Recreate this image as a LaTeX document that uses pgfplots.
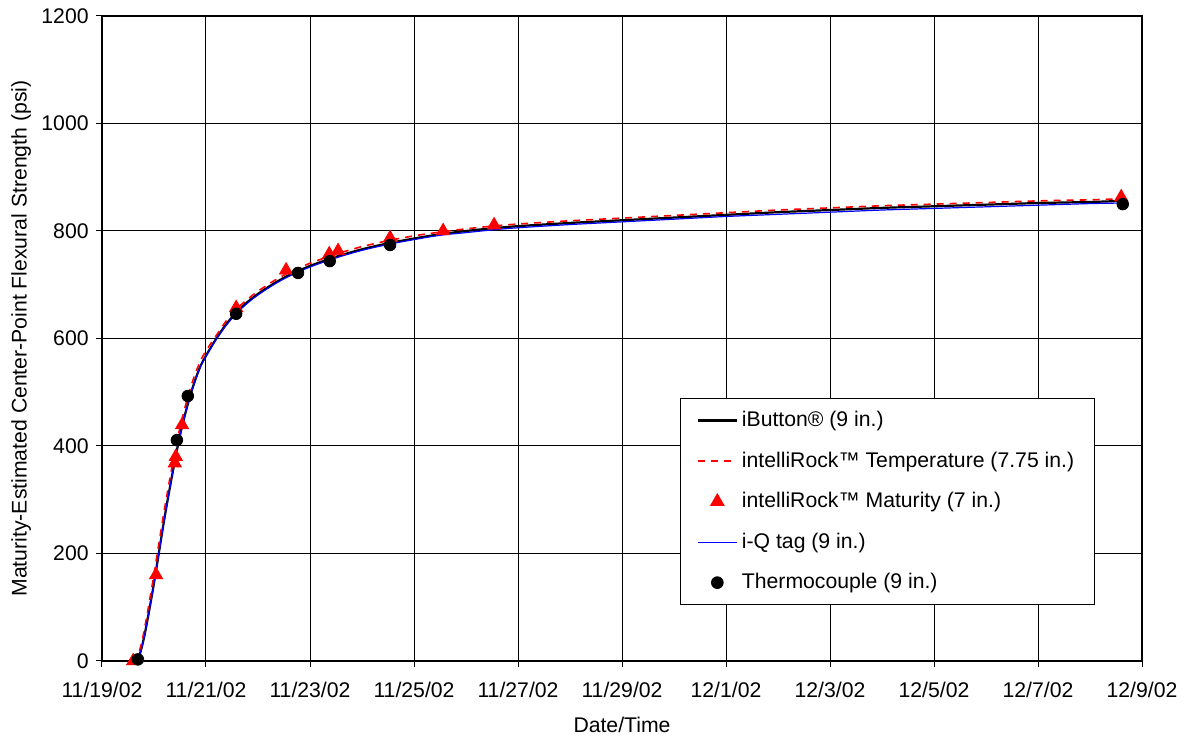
\documentclass[border=0pt]{standalone}
\usepackage{pgfplots}
\pgfplotsset{compat=1.18}
\usepackage{fontspec}
\setmainfont{Liberation Sans}
\begin{document}
\fontsize{10.5}{12.6}\selectfont
\begin{tikzpicture}
\useasboundingbox (-51pt,-38.5pt) rectangle (543.5pt,330.5pt);
\begin{axis}[
  at={(0,0)}, anchor=south west,
  scale only axis, width=520pt, height=322.5pt,
  xmin=0, xmax=20, ymin=0, ymax=1200,
  xtick={0,2,...,20},
  xticklabels={11/19/02,11/21/02,11/23/02,11/25/02,11/27/02,11/29/02,12/1/02,12/3/02,12/5/02,12/7/02,12/9/02},
  ytick={0,200,...,1200},
  /pgf/number format/assume math mode=true,
  /pgf/number format/1000 sep={},
  tick align=outside, tick pos=left, major tick length=3pt,
  grid=major, major grid style={black, line width=0.5pt},
  axis line style={black, line width=0.6pt},
  tick style={black, line width=0.5pt},
  ticklabel style={font=\fontsize{10.6}{12}\selectfont},
  xticklabel style={yshift=-4pt},
  xlabel={Date/Time}, ylabel={Maturity-Estimated Center-Point Flexural Strength (psi)},
  label style={font=\fontsize{10.6}{12}\selectfont},
  xlabel style={yshift=-2.5pt},
  ylabel style={yshift=-2pt},
  legend style={at={(0.556,0.408)}, anchor=north west, draw=black, line width=0.5pt,
    font=\fontsize{10.6}{12}\selectfont, row sep=7pt, inner xsep=8pt, inner ysep=4.5pt,
    cells={anchor=west}},
  legend cell align=left,
  legend image code/.code={\draw[mark repeat=2,mark phase=2,#1] plot coordinates {(0pt,0pt) (9.75pt,0pt) (19.5pt,0pt)};},
]
\addplot[black, line width=1.1pt, smooth] coordinates {
(0.62,0) (0.7,5) (0.8,40) (0.9,90) (1.0,145) (1.1,205) (1.2,265) (1.3,320) (1.4,372) (1.5,420) (1.6,460) (1.7,495) (1.8,525) (1.9,550) (2.0,568) (2.2,600) (2.4,628) (2.6,650) (2.8,668) (3.0,683) (3.3,702) (3.6,718) (4.0,735) (4.5,752) (5.0,766) (5.5,777) (6.0,786) (6.5,794) (7.0,800) (7.5,805) (8,809) (9,815) (10,820) (11,825) (12,830) (13,835) (14,839) (15,843) (16,846) (17,849) (18,852) (19,854) (19.6,856)
};
\addlegendentry{iButton\textregistered{} (9 in.)}
\addplot[red, line width=0.8pt, dash pattern=on 3.5pt off 3pt, smooth] coordinates {
(0.6,0) (0.68,5) (0.78,42) (0.88,93) (0.98,150) (1.08,210) (1.18,270) (1.28,326) (1.38,378) (1.48,426) (1.58,466) (1.68,501) (1.78,531) (1.88,555) (1.98,574) (2.2,606) (2.4,634) (2.6,656) (2.8,673) (3.0,688) (3.3,707) (3.6,723) (4.0,740) (4.5,757) (5.0,771) (5.5,782) (6.0,791) (6.5,798) (7.0,804) (7.5,809) (8,813) (9,819) (10,824) (11,829) (12,834) (13,839) (14,843) (15,847) (16,850) (17,853) (18,856) (19,858) (19.6,860)
};
\addlegendentry{intelliRock™ Temperature (7.75 in.)}
\addplot[only marks, mark=triangle*, mark size=3.8pt, red, mark options={fill=red, draw=red}] coordinates {
(0.6,0) (1.04,160) (1.40,368) (1.42,380) (1.54,439) (2.58,657) (3.54,727) (4.37,757) (4.54,763) (5.54,787) (6.56,800) (7.54,811) (19.6,863)
};
\addlegendentry{intelliRock™ Maturity (7 in.)}
\addplot[color={rgb,255:red,0;green,0;blue,255}, line width=0.6pt, smooth] coordinates {
(0.62,0) (0.7,4) (0.8,39) (0.9,89) (1.0,144) (1.1,204) (1.2,264) (1.3,319) (1.4,371) (1.5,419) (1.6,459) (1.7,494) (1.8,524) (1.9,549) (2.0,567) (2.2,599) (2.4,626) (2.6,648) (2.8,666) (3.0,681) (3.3,700) (3.6,716) (4.0,733) (4.5,750) (5.0,764) (5.5,775) (6.0,784) (6.5,792) (7.0,797) (7.5,802) (8,806) (9,812) (10,817) (11,822) (12,827) (13,831) (14,835) (15,839) (16,842) (17,845) (18,848) (19,851) (19.6,852)
};
\addlegendentry{i-Q tag (9 in.)}
\addplot[only marks, mark=*, mark size=2.9pt, black] coordinates {
(0.69,3) (1.44,411) (1.65,493) (2.58,646) (3.77,722) (4.38,744) (5.54,774) (19.63,850)
};
\addlegendentry{Thermocouple (9 in.)}
\end{axis}
\end{tikzpicture}
\end{document}
